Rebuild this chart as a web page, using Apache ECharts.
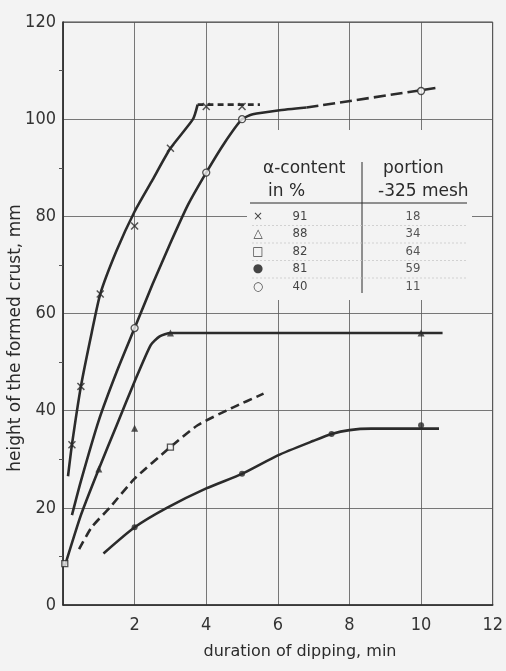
<!DOCTYPE html>
<html><head><meta charset="utf-8">
<script src="https://cdn.jsdelivr.net/npm/echarts@6/dist/echarts.min.js"></script>
<style>html,body{margin:0;padding:0;background:#f3f3f3}#c{width:506px;height:671px}</style>
</head><body><div id="c"></div><script>
// ---- curves (x = duration min, y = height mm) ----
const curve91Solid = [[0.14,26.5],[0.25,33],[0.5,45],[0.8,56],[1.04,64],[1.5,73],[2,81],[2.5,87.5],[3,94],[3.63,100],[3.76,103]];
const curve91Dash  = [[3.76,103],[5.5,103]];
const curve40Solid = [[0.25,18.5],[0.5,25.5],[1,38],[1.5,48],[2,57],[2.5,66],[3,74.5],[3.5,82.5],[4,89],[4.5,95],[5,100],[5.3,101],[6,101.8],[6.8,102.4]];
const curve40Dash  = [[6.8,102.4],[10.4,106.4]];
const curve88      = [[0.05,8],[0.5,18.5],[1,28],[1.5,37],[2,46],[2.45,53.5],[2.7,55.3],[3,56],[10.6,56]];
const curve82Dash  = [[0.45,11.5],[0.8,16],[1.3,20],[2,26],[3,32.5],[3.76,37],[4.7,40.5],[5.6,43.5]];
const curve81      = [[1.13,10.6],[2,16],[2.9,20],[4,24],[5,27],[6,30.8],[7,33.8],[7.5,35.2],[8,36],[8.6,36.3],[10.5,36.3]];
// ---- measured points ----
const pts91 = [[0.25,33],[0.5,45],[1.04,64],[2,78],[3,94],[4,102.6],[5,102.6]];
const pts88 = [[1,28],[2,36.4],[3,56],[10,56]];
const pts82 = [[0.05,8.5],[3,32.5]];
const pts81 = [[2,16],[5,27],[7.5,35.2],[10,37]];
const pts40 = [[2,57],[4,89],[5,100],[10,105.8]];
// ---- table ----
const tableSymbols = ['×','△','□','●','○'];
const alphaContent = ['91','88','82','81','40'];
const portion325   = ['18','34','64','59','11'];
const xTitle = 'duration of dipping, min';
const yTitle = 'height of the formed crust, mm';

const INK = '#2b2b2b';
const BG = '#f3f3f3';
const chart = echarts.init(document.getElementById('c'));

function lineSeries(data, dash){
  return {type:'line', data, smooth:0.2, showSymbol:false, symbol:'none', silent:true,
    lineStyle:{color:INK, width:2.6, type: dash || 'solid'}, z:3};
}
function ptSeries(data, symbol, size, filled){
  return {type:'scatter', data, symbol, symbolSize:size, silent:true, z:5,
    itemStyle:{color: filled ? INK : BG, borderColor:INK, borderWidth: filled ? 0 : 1.3}};
}
const xMark = 'path://M0,1.3L1.3,0L5,3.7L8.7,0L10,1.3L6.3,5L10,8.7L8.7,10L5,6.3L1.3,10L0,8.7L3.7,5Z';

const graphics = [];
graphics.push({type:'rect', shape:{x:247,y:130,width:225,height:170}, style:{fill:BG}, z:10});
graphics.push({type:'text', x:263, y:160, style:{text:'α-content', font:'17px "DejaVu Sans"', fill:INK}, z:11});
graphics.push({type:'text', x:268, y:183, style:{text:'in %', font:'17px "DejaVu Sans"', fill:INK}, z:11});
graphics.push({type:'text', x:383, y:160, style:{text:'portion', font:'17px "DejaVu Sans"', fill:INK}, z:11});
graphics.push({type:'text', x:378, y:183, style:{text:'-325 mesh', font:'17px "DejaVu Sans"', fill:INK}, z:11});
graphics.push({type:'line', shape:{x1:362,y1:162,x2:362,y2:293}, style:{stroke:INK, lineWidth:1}, z:11});
graphics.push({type:'line', shape:{x1:250,y1:203,x2:467,y2:203}, style:{stroke:INK, lineWidth:1}, z:11});
const rowY = [217,234,252,269,287];
tableSymbols.forEach((s,i)=>{
  graphics.push({type:'text', x:258, y:rowY[i], style:{text:s, font:'12px "DejaVu Sans"', fill:'#444', textAlign:'center', textVerticalAlign:'middle'}, z:11});
  graphics.push({type:'text', x:300, y:rowY[i], style:{text:alphaContent[i], font:'13px "Liberation Sans Narrow", "DejaVu Sans Condensed", sans-serif', fill:'#444', textAlign:'center', textVerticalAlign:'middle'}, z:11});
  graphics.push({type:'text', x:413, y:rowY[i], style:{text:portion325[i], font:'13px "Liberation Sans Narrow", "DejaVu Sans Condensed", sans-serif', fill:'#555', textAlign:'center', textVerticalAlign:'middle'}, z:11});
  if(i<4){
    const yy = (rowY[i]+rowY[i+1])/2;
    graphics.push({type:'line', shape:{x1:252,y1:yy,x2:467,y2:yy}, style:{stroke:'#c8c8c8', lineWidth:0.8, lineDash:[2,2]}, z:11});
  }
});
graphics.push({type:'text', x:300, y:652, style:{text:xTitle, font:'16px "DejaVu Sans"', fill:INK, textAlign:'center', textVerticalAlign:'middle'}});
graphics.push({type:'text', x:16, y:338, rotation:Math.PI/2, style:{text:yTitle, font:'17px "DejaVu Sans"', fill:INK, textAlign:'center', textVerticalAlign:'middle'}});

const tickFont = {fontFamily:'"Liberation Sans Narrow", "DejaVu Sans Condensed", sans-serif', fontSize:18, color:'#333'};

chart.setOption({
  backgroundColor: BG,
  animation:false,
  grid:{left:63, right:7, top:22, bottom:66, show:true, borderColor:'#444', borderWidth:1},
  xAxis:{type:'value', min:0, max:12, interval:2,
    axisLine:{show:true, onZero:false, lineStyle:{color:INK, width:1.6}},
    axisTick:{show:false},
    splitLine:{show:true, lineStyle:{color:'#555', width:0.8}},
    axisLabel:{...tickFont, margin:11, formatter:v=> v===0 ? '' : String(v)}},
  yAxis:{type:'value', min:0, max:120, interval:20,
    axisLine:{show:true, onZero:false, lineStyle:{color:INK, width:1.6}},
    axisTick:{show:false},
    minorTick:{show:true, splitNumber:2, length:4, lineStyle:{color:'#555', width:1}},
    splitLine:{show:true, lineStyle:{color:'#555', width:0.8}},
    axisLabel:{...tickFont, margin:7}},
  graphic: graphics,
  series:[
    lineSeries(curve91Solid), lineSeries(curve91Dash,[6,4]),
    lineSeries(curve40Solid), lineSeries(curve40Dash,[12,5]),
    lineSeries(curve88), lineSeries(curve82Dash,[9,5]), lineSeries(curve81),
    ptSeries(pts91, xMark, 8, true),
    ptSeries(pts88, 'triangle', 7, true),
    ptSeries(pts82, 'rect', 6, false),
    ptSeries(pts81, 'circle', 6, true),
    ptSeries(pts40, 'circle', 7, false)
  ]
});
</script></body></html>
